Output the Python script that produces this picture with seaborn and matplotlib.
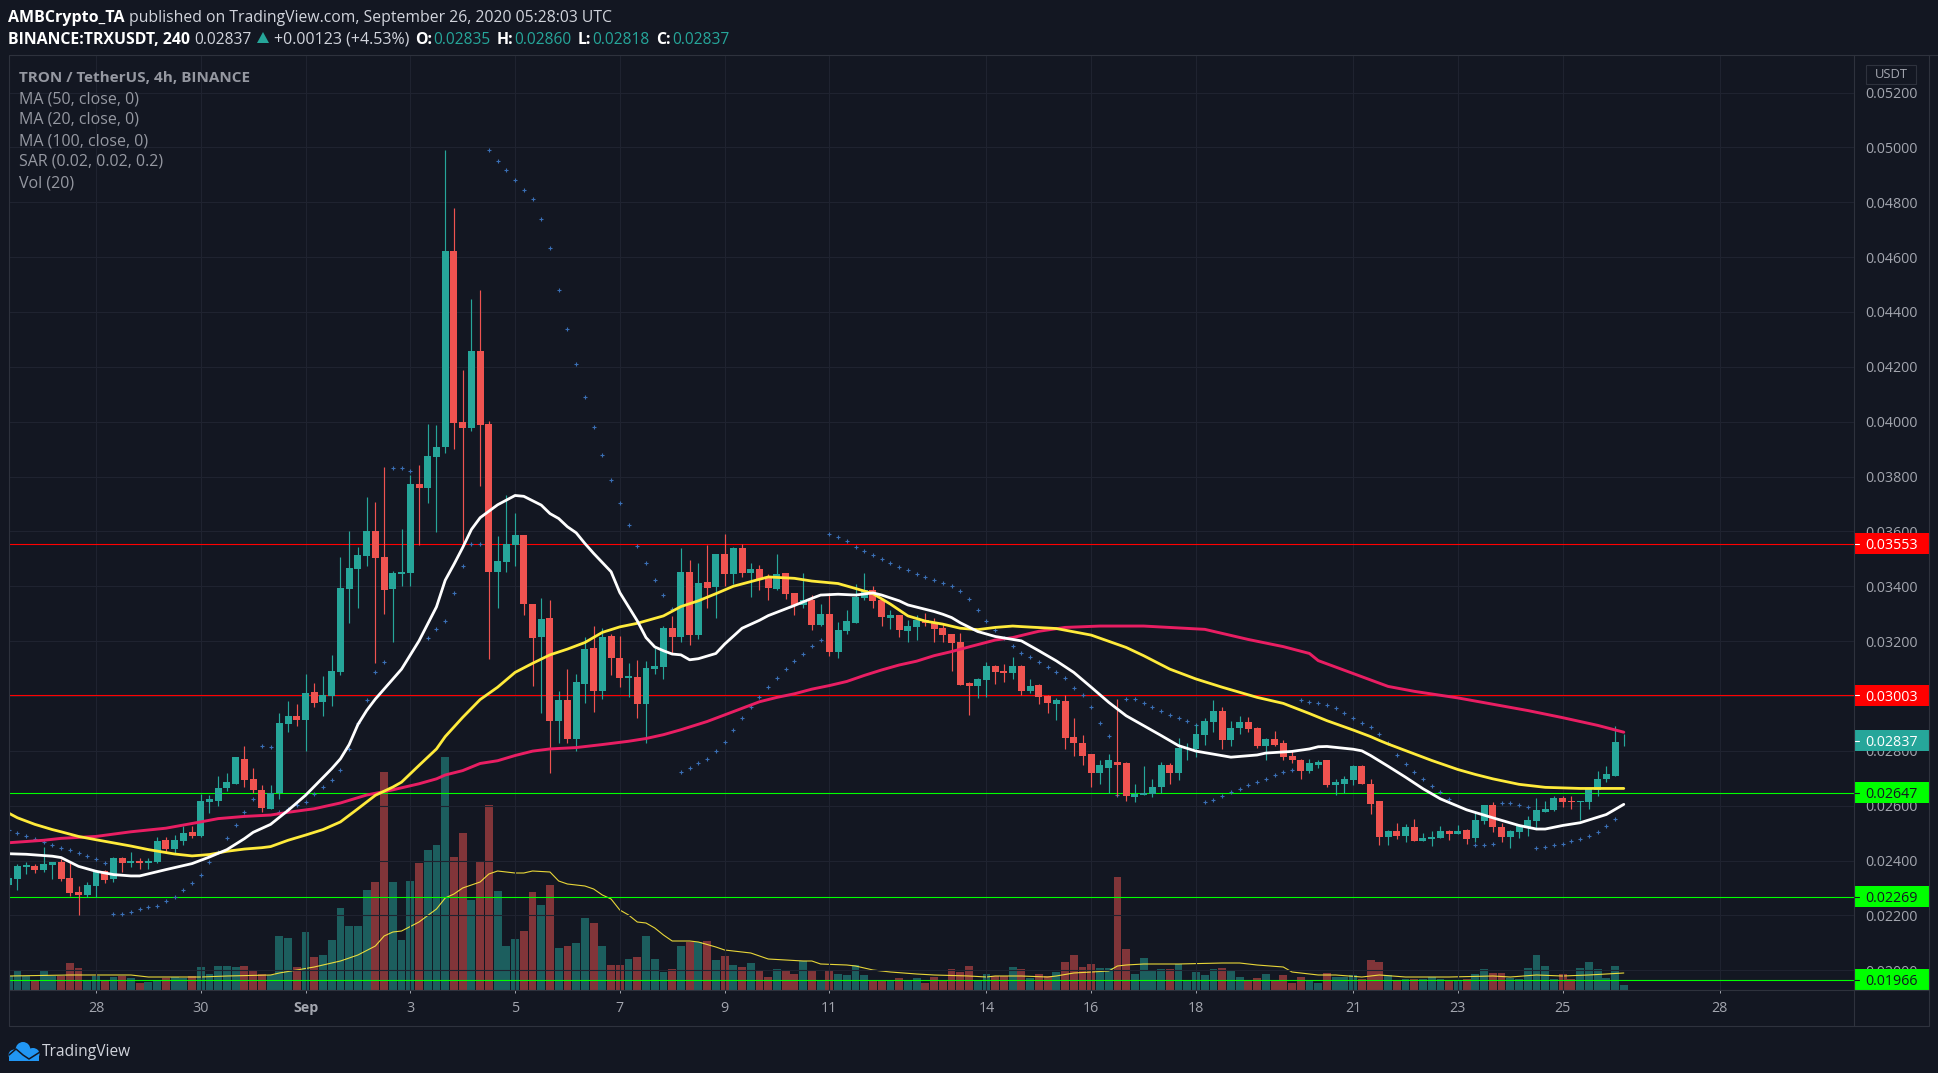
import numpy as np
import pandas as pd
import matplotlib
matplotlib.use("Agg")
import matplotlib.pyplot as plt
from matplotlib.patches import Rectangle, Ellipse, Polygon
from matplotlib.transforms import blended_transform_factory
import seaborn as sns

# Prices are in thousandths of USDT
open_ = [23.10,23.32,23.76,23.79,23.67,23.83,23.94,23.36,22.85,22.74,
 23.07,23.61,23.32,24.08,23.90,23.98,23.90,23.94,24.74,24.41,
 24.70,25.03,24.88,26.12,26.19,26.63,26.81,27.72,26.96,26.59,
 25.87,26.48,28.99,29.28,29.14,30.16,29.79,30.01,30.88,33.90,
 34.63,35.10,36.01,35.07,33.90,34.45,34.48,37.72,37.58,38.70,
 39.07,46.23,39.98,39.76,42.56,39.90,34.52,34.88,35.50,35.87,
 33.36,32.16,32.85,29.10,29.87,28.45,30.45,31.76,30.19,32.19,
 31.39,30.67,30.70,29.72,30.99,31.07,32.48,32.16,34.52,32.23,
 34.16,33.98,35.18,34.45,35.39,34.48,34.63,34.30,33.90,34.48,
 33.76,33.32,33.50,32.59,32.99,31.61,32.38,32.67,33.58,33.87,
 33.50,32.85,32.96,32.38,32.52,32.78,32.70,32.48,32.27,31.98,
 30.48,30.38,30.59,31.10,30.92,30.85,31.10,30.19,30.41,30.01,
 29.72,29.83,28.52,28.30,27.87,27.18,27.39,27.61,27.54,26.30,
 26.38,26.41,26.67,27.47,27.21,28.05,28.08,28.59,29.07,29.47,
 28.41,28.85,29.07,28.85,28.19,28.45,28.27,27.83,27.68,27.25,
 27.50,27.65,26.74,26.78,26.92,27.43,26.81,26.16,24.85,25.07,
 24.88,25.21,24.70,24.78,24.81,25.07,24.96,25.10,24.81,25.43,
 26.01,25.21,24.85,25.03,25.21,25.43,25.76,25.83,26.27,26.16,
 26.13,26.12,26.59,26.96,27.10,28.35]
close = [23.36,23.79,23.83,23.67,23.87,23.94,23.32,22.81,22.74,23.10,
 23.61,23.28,24.08,23.90,23.98,23.90,23.98,24.70,24.41,24.74,
 24.99,24.88,26.16,26.23,26.63,26.85,27.76,26.92,26.56,25.90,
 26.48,29.03,29.28,29.14,30.12,29.76,30.05,30.92,33.94,34.67,
 35.14,36.01,35.03,33.87,34.48,34.52,37.72,37.58,38.74,39.07,
 46.23,39.94,39.76,42.59,39.87,34.52,34.92,35.54,35.87,33.36,
 32.12,32.81,29.10,29.87,28.45,30.52,31.72,30.19,32.16,31.39,
 30.67,30.74,29.72,31.03,31.10,32.48,32.16,34.52,32.23,34.12,
 33.94,35.18,34.45,35.39,34.48,34.63,34.27,33.94,34.45,33.72,
 33.32,33.50,32.59,32.99,31.61,32.41,32.74,33.61,33.87,33.47,
 32.88,32.96,32.41,32.56,32.78,32.67,32.45,32.23,31.94,30.41,
 30.38,30.63,31.10,30.88,30.85,31.10,30.19,30.38,29.98,29.76,
 29.87,28.48,28.30,27.83,27.18,27.47,27.65,27.50,26.34,26.41,
 26.45,26.70,27.47,27.21,28.12,28.12,28.63,29.10,29.47,28.41,
 28.85,29.07,28.81,28.19,28.45,28.23,27.79,27.65,27.25,27.54,
 27.61,26.74,26.85,26.96,27.43,26.81,26.08,24.85,25.07,24.88,
 25.21,24.70,24.81,24.85,25.07,24.96,25.07,24.78,25.47,26.01,
 25.21,24.85,25.07,25.25,25.47,25.83,25.87,26.27,26.12,26.13,
 26.16,26.63,26.99,27.14,28.34,28.37]
high = [23.47,23.87,23.94,23.87,24.48,23.94,24.05,23.90,23.07,23.21,
 23.65,23.65,24.12,24.12,24.30,24.08,24.08,24.85,24.85,24.92,
 25.25,25.25,26.41,26.38,27.07,27.18,27.79,28.19,27.39,26.74,
 26.74,29.39,29.83,29.72,30.81,30.48,30.74,31.50,35.07,36.01,
 35.43,37.25,37.07,38.34,34.56,36.08,38.05,38.41,39.90,39.87,
 49.90,47.79,41.90,44.48,44.81,40.01,35.83,37.32,36.67,35.87,
 33.36,33.58,33.50,30.19,30.99,30.81,32.16,32.56,32.48,32.27,
 32.19,31.21,31.32,31.28,31.76,32.56,32.92,35.39,34.96,34.85,
 35.50,35.18,35.90,35.43,35.54,34.85,34.78,34.45,35.18,34.48,
 33.76,34.48,33.68,33.36,33.76,32.70,33.14,34.08,34.48,34.01,
 33.58,33.14,32.96,32.78,32.96,33.03,32.85,32.63,32.27,32.30,
 30.52,30.67,31.25,31.14,31.18,31.43,31.14,30.63,30.45,30.05,
 29.94,30.05,29.21,28.56,27.87,27.68,27.90,29.90,27.61,26.81,
 27.43,26.99,27.58,27.54,28.48,28.30,28.99,29.21,29.87,29.61,
 29.10,29.28,29.25,28.88,28.48,28.74,28.38,27.98,27.72,27.72,
 27.68,27.65,26.99,27.10,27.50,27.50,26.96,26.16,25.10,25.36,
 25.32,25.50,24.99,25.07,25.25,25.10,25.28,25.14,25.79,26.01,
 26.12,25.36,25.10,25.32,25.61,26.27,26.19,26.34,26.34,26.34,
 26.19,26.63,27.28,27.43,28.92,28.60]
low = [23.03,22.92,23.50,23.55,23.58,23.32,23.25,22.70,22.01,22.67,
 22.69,23.18,23.21,23.58,23.76,23.68,23.68,23.90,24.30,24.27,
 24.56,24.81,24.85,25.72,25.98,26.52,26.81,26.70,26.45,25.76,
 25.87,26.23,28.70,28.92,28.01,29.61,29.28,29.65,30.78,32.67,
 33.21,34.74,31.21,32.99,31.98,34.01,34.01,35.50,37.03,35.98,
 38.85,38.99,35.50,39.65,37.65,31.36,33.21,34.52,34.74,32.96,
 30.38,29.39,27.21,28.27,28.30,27.98,29.76,29.43,29.90,30.78,
 30.34,29.98,29.21,28.30,30.81,30.63,31.54,31.98,31.87,32.08,
 33.21,32.85,34.01,34.08,34.34,33.61,33.87,33.50,33.87,33.54,
 32.96,33.21,32.41,32.56,31.47,31.39,32.27,32.67,33.50,33.21,
 32.56,32.45,32.16,31.98,32.05,32.56,31.98,31.98,30.92,30.41,
 29.32,29.94,29.98,30.45,30.52,30.63,30.05,30.12,29.72,29.39,
 29.14,28.08,27.83,27.47,26.67,26.81,26.45,26.34,26.16,26.12,
 26.38,26.30,26.48,26.78,26.92,27.68,27.76,28.23,28.67,28.08,
 28.19,28.63,28.67,28.12,27.65,28.16,27.68,27.54,26.96,27.18,
 27.36,26.67,26.38,26.45,26.74,26.78,25.68,24.56,24.56,24.78,
 24.67,24.70,24.70,24.52,24.81,24.74,24.96,24.59,24.67,25.32,
 25.03,24.67,24.45,24.81,24.88,25.14,25.76,25.79,25.94,25.87,
 25.47,25.87,26.34,26.88,27.10,28.18]
volume = [14,20,14,9,19,14,14,27,22,10,
 14,9,13,14,12,7,8,10,12,13,
 12,14,23,16,24,24,23,24,19,16,
 15,54,52,23,58,33,35,50,82,64,
 64,100,108,218,108,50,109,127,140,145,
 233,133,157,90,129,185,99,44,51,59,
 98,85,105,42,44,47,72,67,44,25,
 25,31,33,54,31,18,21,44,48,48,
 49,30,34,25,23,27,19,13,21,19,
 16,29,19,10,20,16,15,25,15,9,
 10,9,12,10,12,7,13,10,21,18,
 24,9,16,14,14,23,21,12,16,14,
 18,28,35,23,26,22,22,113,41,16,
 32,19,21,21,26,10,18,15,21,22,
 19,13,10,12,16,10,15,7,13,10,
 7,17,13,13,15,11,30,28,15,9,
 11,11,11,13,11,9,9,11,16,21,
 17,17,12,11,22,35,24,11,16,11,
 22,28,21,12,24,5]

ma20_bar = [0,2,5,6,8,10,12,14,15,18,21,23,25,27,28,30,32,34,37,38,39,40,41,42,45,47,49,50,51,52,53,54,56,58,59,61,62,63,64,65,66,67,69,70,72,73,74,75,76,77,78,79,81,82,84,86,87,90,92,93,95,97,99,100,102,103,106,107,108,109,111,113,116,118,120,122,124,126,128,130,132,134,136,138,140,143,144,147,149,150,151,154,155,156,158,160,162,164,167,170,173,175,176,178,180,183,185]
ma20_val = [24.25,24.23,24.16,24.11,23.79,23.61,23.49,23.44,23.44,23.67,23.89,24.13,24.40,24.80,25.03,25.32,25.83,26.38,27.35,27.71,28.23,28.96,29.47,29.89,30.98,32.01,33.25,34.22,34.80,35.41,36.07,36.50,36.97,37.31,37.28,36.96,36.65,36.47,36.17,35.95,35.56,35.20,34.53,33.77,32.74,32.13,31.79,31.65,31.53,31.50,31.32,31.36,31.55,31.89,32.47,32.76,32.93,33.30,33.56,33.68,33.71,33.68,33.76,33.68,33.47,33.32,33.08,32.98,32.86,32.67,32.35,32.17,32.01,31.65,31.28,30.86,30.32,29.77,29.28,28.92,28.56,28.19,27.99,27.88,27.77,27.85,27.92,27.98,28.07,28.15,28.16,28.06,28.00,27.83,27.44,27.04,26.62,26.25,25.85,25.56,25.28,25.15,25.15,25.28,25.38,25.68,26.05]

ma50_bar = [0,1,3,5,6,8,10,14,16,19,21,23,25,27,29,30,32,34,36,38,40,42,44,45,47,49,50,52,54,56,58,60,62,64,66,68,70,72,75,77,79,81,83,85,87,90,92,95,97,99,101,103,105,107,109,111,113,115,116,120,124,128,130,133,136,139,143,146,149,151,154,156,157,158,160,163,166,168,170,173,176,180,185]
ma50_val = [25.73,25.56,25.32,25.13,25.05,24.88,24.76,24.53,24.40,24.24,24.17,24.22,24.34,24.42,24.47,24.51,24.74,24.93,25.13,25.41,25.89,26.38,26.68,26.86,27.47,28.07,28.52,29.22,29.87,30.32,30.86,31.19,31.50,31.71,31.95,32.32,32.52,32.65,32.92,33.26,33.47,33.73,34.00,34.17,34.34,34.29,34.19,34.10,33.92,33.73,33.35,32.92,32.73,32.62,32.47,32.42,32.50,32.55,32.53,32.46,32.22,31.77,31.47,30.98,30.62,30.32,29.95,29.73,29.36,29.10,28.76,28.52,28.38,28.25,28.01,27.65,27.32,27.14,26.98,26.78,26.67,26.63,26.63]

ma100_bar = [0,4,6,10,14,18,22,24,27,30,32,35,38,41,44,47,49,50,52,54,56,58,60,62,65,68,71,73,75,77,80,82,84,86,88,90,92,94,96,98,100,102,104,106,108,110,113,115,118,121,125,130,137,142,146,149,150,154,158,161,166,174,178,182,185]
ma100_val = [24.65,24.74,24.81,24.88,25.05,25.18,25.41,25.53,25.61,25.66,25.76,25.89,26.10,26.39,26.58,26.80,26.98,27.12,27.28,27.54,27.64,27.83,27.99,28.07,28.12,28.23,28.35,28.45,28.59,28.77,29.07,29.31,29.55,29.79,29.95,30.08,30.25,30.38,30.53,30.75,30.95,31.13,31.27,31.47,31.62,31.79,32.04,32.13,32.36,32.50,32.55,32.55,32.43,32.06,31.80,31.55,31.29,30.82,30.35,30.17,29.93,29.47,29.21,28.93,28.68]

sar_bar = [0,1,2,3,4,5,6,7,8,9,10,11,
 12,13,14,15,16,17,18,19,20,21,22,23,24,25,26,27,28,
 29,30,31,32,33,34,35,36,37,38,39,40,41,42,43,
 44,45,46,48,49,50,51,52,53,54,
 55,56,57,58,59,60,61,62,63,64,65,66,67,68,69,70,71,72,73,74,75,76,
 77,78,79,80,81,82,83,84,85,86,87,88,89,90,91,92,93,
 94,95,96,97,98,99,100,101,102,103,104,105,106,107,108,109,110,111,112,113,114,115,116,117,118,119,120,121,122,123,124,125,126,
 127,128,129,130,131,132,133,134,135,136,
 137,138,139,140,141,142,143,144,145,146,147,
 148,149,150,151,152,153,154,155,156,157,158,159,160,161,162,163,164,165,
 168,169,170,171,172,173,174,
 175,176,177,178,179,180,181,182,183,184]
sar_val = [25.13,25.02,24.91,24.80,24.69,24.58,24.47,24.40,24.29,24.18,24.04,23.93,
 22.04,22.07,22.11,22.22,22.29,22.36,22.51,22.69,22.91,23.20,23.49,23.96,24.33,24.84,25.31,25.78,26.25,
 28.18,28.15,25.78,25.89,26.01,26.15,26.44,26.69,26.95,27.31,28.07,29.02,29.85,30.87,31.24,
 38.33,38.33,38.22,32.11,32.44,32.73,33.75,34.73,35.53,35.53,
 49.89,49.49,49.16,48.80,48.44,48.11,47.38,46.33,44.80,43.38,42.11,40.91,39.82,38.77,37.86,37.03,36.22,35.48,34.84,34.22,33.67,33.16,
 27.24,27.38,27.56,27.71,28.00,28.33,28.76,29.20,29.59,29.96,30.33,30.65,30.98,31.27,31.53,31.82,32.04,
 35.89,35.78,35.64,35.45,35.27,35.13,34.98,34.84,34.69,34.58,34.44,34.33,34.22,34.11,34.00,33.82,33.53,33.13,32.73,32.40,32.10,31.82,31.56,31.42,31.24,31.05,30.87,30.65,30.29,30.04,29.60,29.02,28.55,
 26.40,29.89,29.89,29.75,29.60,29.45,29.31,29.20,29.09,28.95,
 26.15,26.22,26.36,26.51,26.62,26.76,26.87,26.98,27.13,27.24,27.31,
 29.85,29.78,29.75,29.67,29.56,29.38,29.20,29.02,28.87,28.62,28.29,27.85,27.53,27.24,26.98,26.73,26.51,26.24,
 24.55,24.55,24.62,26.11,26.11,26.04,25.96,
 24.47,24.51,24.55,24.62,24.73,24.80,24.91,25.05,25.27,25.53]

volma_bar = [0,7,14,16,20,22,25,30,31,33,35,37,38,40,42,43,44,45,47,49,50,51,52,54,55,56,58,59,60,62,63,64,65,66,67,68,69,70,71,72,73,74,75,76,78,79,81,82,84,85,87,89,91,92,93,96,97,99,101,104,106,110,112,113,116,119,120,122,124,126,127,128,130,134,139,141,143,146,147,148,150,152,155,157,160,165,170,172,175,178,181,183,185]
volma_val = [14,15,15,13,13,13,14,15,17,20,23,27,29,35,44,54,58,59,68,81,92,96,102,108,116,119,117,117,119,118,109,106,105,104,101,95,91,80,75,68,67,62,55,49,49,48,43,40,38,37,31,30,29,29,26,25,24,20,18,16,15,14,13,14,14,13,14,17,18,19,24,25,26,26,27,27,25,23,18,17,15,15,13,15,13,13,14,13,15,14,15,16,17]

levels_red = [35.553, 30.03]
levels_green = [26.47, 22.69, 19.66]
date_bars = [10,22,34,46,58,70,82,94,112,124,136,154,166,178,196]
date_labels = ["28","30","Sep","3","5","7","9","11","14","16","18","21","23","25","28"]
indicator_names = ["MA (50, close, 0)","MA (20, close, 0)","MA (100, close, 0)","SAR (0.02, 0.02, 0.2)","Vol (20)"]
tags = [("0.03553",35.553,"#ff0000","#ffffff"),("0.03003",30.03,"#ff0000","#ffffff"),
        ("0.02837",28.37,"#26a69a","#ffffff"),("0.02647",26.47,"#00ff00","#131722"),
        ("0.02269",22.69,"#00ff00","#131722"),("0.01966",19.66,"#00ff00","#131722")]

BG="#131722"; UP="#26a69a"; DOWN="#ef5350"; GRID="#1f2330"; BORDER="#2e323d"; TXT="#a3a6af"
W,H=1938,1073
sns.set_theme(style="dark", rc={"axes.facecolor":BG,"figure.facecolor":BG,"savefig.facecolor":BG})
plt.rcParams["font.family"]=["Open Sans","DejaVu Sans"]

df=pd.DataFrame({"o":open_,"h":high,"l":low,"c":close,"v":volume})/1.0
df["bar"]=np.arange(len(df))
up=df.c>=df.o
colors=np.where(up,UP,DOWN)

fig=plt.figure(figsize=(W/100,H/100),dpi=100)
L,R,T,B=8.7,1854,55,990
rect=[L/W,1-B/H,(R-L)/W,(B-T)/H]
ax_vol=fig.add_axes(rect)
ax=fig.add_axes(rect,sharex=ax_vol)
ax_vol.set_zorder(1); ax.set_zorder(2); ax.patch.set_visible(False)

# volume pane
ax_vol.bar(df.bar,df.v,width=0.9,color=colors,alpha=0.5,linewidth=0)
sns.lineplot(x=volma_bar,y=volma_val,ax=ax_vol,color="#ffeb3b",linewidth=0.8,alpha=0.9,estimator=None,sort=False)
ax_vol.set_ylim(0,B-T)
ax_vol.set_xlim(0,211.37)
ax_vol.set_yticks([]); ax_vol.tick_params(left=False,labelleft=False,bottom=False,labelbottom=False)
for s in ax_vol.spines.values(): s.set_visible(False)

# price pane
SCALE=27.43; Y20=970.3
y0=20-(B-Y20)/SCALE; y1=20+(Y20-T)/SCALE
ax.set_ylim(y0/1000,y1/1000)
ax.set_axisbelow(True)
ax.grid(True,color=GRID,linewidth=0.8)
ax.set_yticks(np.arange(20,54,2)/1000)
ax.yaxis.tick_right()
ax.yaxis.set_major_formatter(matplotlib.ticker.FormatStrFormatter("%.5f"))
ax.tick_params(axis="y",length=0,pad=8.3,labelsize=10.3,labelcolor=TXT,right=False)
for lab in ax.get_yticklabels():
    lab.set_verticalalignment("center_baseline")
ax.set_xticks(date_bars); ax.set_xticklabels(date_labels)
ax.tick_params(axis="x",length=2.2,width=0.7,color=TXT,pad=5.8,labelsize=10.3,labelcolor=TXT,bottom=True)
for tl,l in zip(ax.get_xticklabels(),date_labels):
    if l=="Sep": tl.set_fontweight("bold")
for s in ax.spines.values(): s.set_visible(False)

for v in levels_red:
    ax.axhline(v/1000,color="#ff0000",linewidth=0.8,zorder=1.5)
for v in levels_green:
    ax.axhline(v/1000,color="#00ff00",linewidth=0.8,zorder=1.5)

sns.scatterplot(x=sar_bar,y=np.array(sar_val)/1000,ax=ax,marker="+",color="#3a6fb5",s=9,linewidth=0.8,zorder=2,legend=False)

ax.vlines(df.bar,df.l/1000,df.h/1000,colors=colors,linewidth=0.85,zorder=3)
ax.bar(df.bar,(df.c-df.o).abs()/1000,bottom=df[["o","c"]].min(axis=1)/1000,width=0.8,color=colors,linewidth=0,zorder=3)

sns.lineplot(x=ma100_bar,y=np.array(ma100_val)/1000,ax=ax,color="#e91e63",linewidth=2.1,estimator=None,sort=False,zorder=4)
sns.lineplot(x=ma50_bar,y=np.array(ma50_val)/1000,ax=ax,color="#ffeb3b",linewidth=2.0,estimator=None,sort=False,zorder=4)
sns.lineplot(x=ma20_bar,y=np.array(ma20_val)/1000,ax=ax,color="#ffffff",linewidth=2.0,estimator=None,sort=False,zorder=4)
ax.set_xlabel(""); ax.set_ylabel("")
ax.set_xlim(0,211.37)
ax_vol.set_xlabel(""); ax_vol.set_ylabel("")

# price tags on the right-hand scale
bt=blended_transform_factory(ax.transAxes,ax.transData)
tag_w=(1929-R)/(R-L)
half=10.5/(SCALE*1000)
for label,v,bgc,fgc in tags:
    v=v/1000
    ax.add_patch(Rectangle((1,v-half),tag_w,2*half,transform=bt,facecolor=bgc,edgecolor="none",clip_on=False,zorder=6))
    ax.plot([1,1+5/(R-L)],[v,v],transform=bt,color=fgc,linewidth=0.8,clip_on=False,zorder=7)
    ax.text(1+11.5/(R-L),v,label,transform=bt,color=fgc,fontsize=10.3,va="center_baseline",ha="left",clip_on=False,zorder=7)

# page chrome in pixel coordinates
ov=fig.add_axes([0,0,1,1]); ov.set_zorder(5); ov.patch.set_visible(False)
ov.set_xlim(0,W); ov.set_ylim(H,0); ov.axis("off")
for (x0,y0_,x1,y1_) in [(L,T,W,T),(L,T,L,1026),(L,B,1929,B),(L,1026,1929,1026),(R,T,R,1026),(1929,T,1929,1026)]:
    ov.plot([x0,x1],[y0_,y1_],color=BORDER,linewidth=0.8)

FS=11.4
def t(x,y,s,color="#b2b5be",weight="normal",fs=FS):
    ov.text(x,y,s,color=color,fontweight=weight,fontsize=fs,va="center",ha="left")
t(8,18,"AMBCrypto_TA","#ffffff","bold",11.5)
t(129,18,"published on TradingView.com, September 26, 2020 05:28:03 UTC","#d1d4dc",fs=11.3)
t(8,40,"BINANCE:TRXUSDT, 240","#ffffff","bold",11.4)
t(194,40,"0.02837","#d1d4dc",fs=11.2)
ov.add_patch(Polygon([[257,43],[269,43],[263,32]],closed=True,facecolor=UP,edgecolor="none"))
t(274,40,"+0.00123 (+4.53%)","#d1d4dc",fs=11.5)
for lx,lab,vx,val in [(415,"O:",433,"0.02835"),(497,"H:",514,"0.02860"),(578,"L:",592,"0.02818"),(656,"C:",672,"0.02837")]:
    t(lx,40,lab,"#ffffff","bold")
    t(vx,40,val,UP,fs=11.2)
t(19,77.5,"TRON / TetherUS, 4h, BINANCE","#9598a1","bold",11.0)
for k,name in enumerate(indicator_names):
    t(19,99+21*k,name,"#9598a1",fs=11.5)

# USDT button
ov.add_patch(Rectangle((1866,65),50,19,facecolor=BG,edgecolor=BORDER,linewidth=0.8))
ov.text(1891,75,"USDT",color=TXT,fontsize=9.4,va="center",ha="center")

# TradingView logo
LOGO="#2196f3"
for (cx,cy,w,h) in [(14.5,1053,12,11),(23,1048,15,16),(33,1052,13,12)]:
    ov.add_patch(Ellipse((cx,cy+2),w,h,facecolor=LOGO,edgecolor="none"))
ov.add_patch(Rectangle((9,1054),30,7,facecolor=LOGO,edgecolor="none"))
ov.plot([9,16,23,29,40],[1055,1049,1055,1059,1052],color=BG,linewidth=1.1)
ov.text(42,1052,"TradingView",color="#d1d4dc",fontsize=11.2,va="center",ha="left")

fig.savefig("out.png",dpi=100,facecolor=BG)
